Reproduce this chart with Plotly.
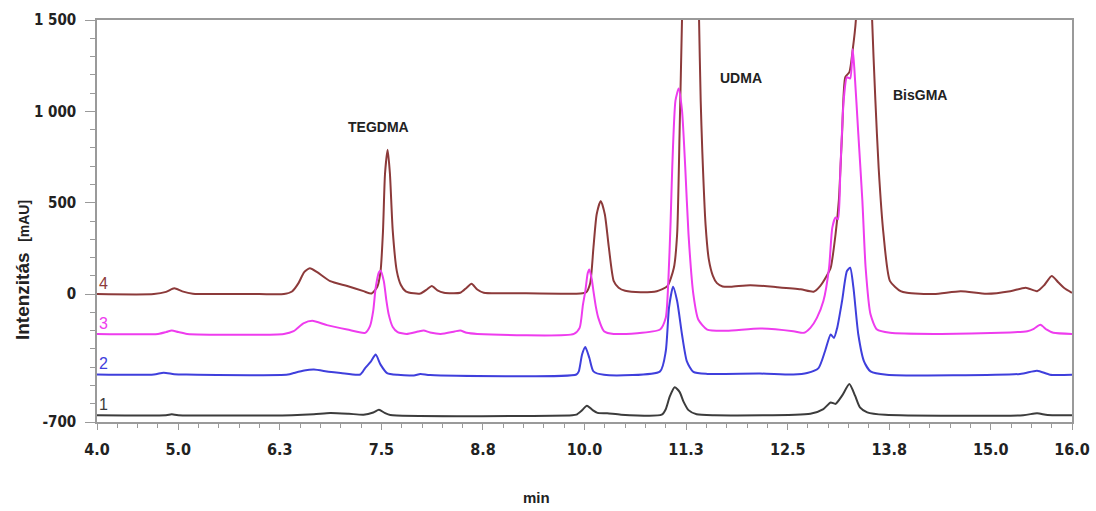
import plotly.graph_objects as go

# ---------------- data ----------------
# retention time (min) / intensity (mAU) for each chromatogram
t4 = [4.0, 4.70, 4.85, 4.95, 5.05, 5.18, 5.5, 6.0, 6.30, 6.40, 6.48, 6.55, 6.62, 6.71, 6.87, 7.08, 7.28, 7.38,
      7.45, 7.49, 7.52, 7.545, 7.577, 7.605, 7.64, 7.69, 7.74, 7.80, 7.90, 7.98, 8.06, 8.12, 8.19, 8.27,
      8.47, 8.55, 8.61, 8.68, 8.76, 9.13, 9.95, 10.02, 10.07, 10.11, 10.15, 10.20, 10.25, 10.30, 10.36,
      10.42, 10.50, 10.69, 10.89, 11.02, 11.10, 11.14, 11.17, 11.20, 11.25, 11.31, 11.37, 11.41, 11.43,
      11.45, 11.49, 11.53, 11.58, 11.63, 11.70, 11.80, 12.04, 12.37, 12.66, 12.82, 12.90, 12.98, 13.03, 13.09, 13.13,
      13.17, 13.21, 13.26, 13.30, 13.34, 13.44, 13.54, 13.58, 13.62, 13.68, 13.76, 13.89, 13.97, 14.30,
      14.63, 14.95, 15.24, 15.43, 15.57, 15.66, 15.75, 15.83, 15.90, 16.0]
y4 = [0, 0, 12, 32, 15, 2, 0, 0, 0, 14, 60, 120, 142, 120, 71, 44, 16, 3,
      40, 126, 346, 660, 790, 660, 346, 126, 50, 15, 4, 3, 25, 44, 20, 7,
      7, 35, 57, 25, 7, 5, 3, 10, 60, 254, 437, 510, 437, 254, 71,
      35, 18, 10, 16, 44, 144, 328, 877, 1500, 2600, 3200, 2600, 1500, 1060,
      780, 380, 190, 100, 60, 42, 40, 49, 38, 26, 13, 44, 99, 144, 328, 510,
      877, 1187, 1215, 1334, 1500, 3200, 1500, 1060, 693, 328, 71, 16, 7, 0,
      16, 2, 16, 35, 16, 50, 99, 65, 35, 7]

t3 = [4.0, 4.75, 4.85, 4.92, 5.00, 5.11, 6.30, 6.42, 6.54, 6.65, 6.83, 7.08, 7.30, 7.36, 7.40, 7.43,
      7.47, 7.49, 7.53, 7.56, 7.59, 7.64, 7.70, 7.81, 7.95, 8.02, 8.10, 8.23, 8.40, 8.47, 8.55, 8.68,
      9.87, 9.94, 9.98, 10.01, 10.04, 10.06, 10.09, 10.11, 10.14, 10.17, 10.24, 10.36, 10.93, 11.00,
      11.03, 11.06, 11.08, 11.12, 11.16, 11.20, 11.24, 11.28, 11.34, 11.40, 11.51, 11.75, 12.16, 12.57,
      12.70, 12.78, 12.86, 12.94, 13.01, 13.05, 13.09, 13.12, 13.15, 13.19, 13.23, 13.27, 13.30, 13.32,
      13.37, 13.42, 13.46, 13.52, 13.60, 13.76, 14.30, 15.12, 15.45, 15.53, 15.61, 15.69, 15.77, 16.0]
y3 = [-218, -218, -208, -199, -208, -218, -218, -203, -160, -146, -170, -194, -212, -175, -90, 35,
      120, 128, 71, -30, -111, -180, -208, -218, -205, -199, -210, -218, -205, -199, -212, -218,
      -218, -185, -60, 16, 115, 135, 80, 16, -70, -130, -203, -218, -194, -130,
      53, 400, 693, 1060, 1125, 1005, 693, 328, -2, -139, -194, -200, -188, -203,
      -212, -185, -130, -38, 144, 364, 419, 410, 693, 1060, 1187, 1180, 1340, 1242,
      877, 510, 144, -111, -194, -212, -218, -212, -203, -190, -168, -195, -212, -218]

t2 = [4.0, 4.70, 4.82, 4.95, 5.10, 6.35, 6.42, 6.55, 6.67, 6.85, 7.00, 7.24, 7.30, 7.37, 7.43, 7.49,
      7.57, 7.70, 7.90, 7.98, 8.10, 9.90, 9.93, 9.97, 10.01, 10.06, 10.11, 10.24, 10.93, 11.00, 11.04,
      11.09, 11.14, 11.20, 11.26, 11.34, 11.51, 12.16, 12.57, 12.74, 12.88, 12.96, 13.03, 13.07, 13.11,
      13.17, 13.23, 13.27, 13.31, 13.37, 13.44, 13.52, 13.72, 15.36, 15.57, 15.73, 16.0]
y2 = [-440, -440, -430, -438, -440, -440, -432, -418, -413, -425, -432, -440, -405, -370, -331, -386,
      -432, -442, -445, -437, -443, -440, -423, -331, -290, -350, -423, -442, -423, -313, -75,
      40, -38, -221, -368, -426, -437, -435, -440, -432, -405, -313, -221, -240, -185,
      -38, 126, 144, 35, -221, -368, -423, -441, -437, -419, -441, -441]

t1 = [4.0, 4.85, 4.92, 5.0, 6.4, 6.67, 6.87, 7.10, 7.28, 7.40, 7.47, 7.54, 7.61, 9.85, 9.90, 9.96,
      10.03, 10.10, 10.16, 10.28, 10.45, 10.95, 11.00, 11.05, 11.11, 11.17, 11.22, 11.28, 11.38, 11.60,
      12.78, 12.94, 13.03, 13.09, 13.17, 13.26, 13.33, 13.39, 13.48, 13.70, 15.40, 15.57, 15.70, 16.0]
y1 = [-663, -663, -658, -663, -663, -658, -651, -655, -660, -648, -633, -650, -662, -663, -660, -640,
      -611, -635, -650, -652, -660, -660, -630, -560, -510, -535, -590, -635, -658, -663,
      -655, -629, -593, -601, -556, -492, -556, -620, -647, -661, -663, -652, -662, -663]

series_names = ["4", "3", "2", "1"]
series_colors = ["#8c3a3a", "#ee3cee", "#3f3fdc", "#3c3c3c"]

x_tickvals = [4.0, 5.0, 6.25, 7.5, 8.75, 10.0, 11.25, 12.5, 13.75, 15.0, 16.0]
x_ticktext = ["4.0", "5.0", "6.3", "7.5", "8.8", "10.0", "11.3", "12.5", "13.8", "15.0", "16.0"]
y_tickvals = [-700, 0, 500, 1000, 1500]
y_ticktext = ["-700", "0", "500", "1 000", "1 500"]

peak_names = ["TEGDMA", "UDMA", "BisGMA"]
peak_label_t = [7.47, 11.93, 14.13]
peak_label_y = [917, 1180, 1087]

# ---------------- figure ----------------
tick_font = dict(family="Liberation Sans Narrow, DejaVu Sans Condensed, Liberation Sans, Arial",
                 size=15, color="#222222", weight="bold")

fig = go.Figure()
all_t = [t4, t3, t2, t1]
all_y = [y4, y3, y2, y1]
for name, col, tx, ty in zip(series_names, series_colors, all_t, all_y):
    fig.add_trace(go.Scatter(x=tx, y=ty, mode="lines", name=name,
                             line=dict(color=col, width=2, shape="spline", smoothing=0.6),
                             showlegend=False, hoverinfo="skip"))
    fig.add_annotation(x=4.0, y=ty[0], xref="x", yref="y", text=name, showarrow=False,
                       xanchor="left", yanchor="bottom", xshift=0, yshift=0,
                       font=dict(family="Liberation Sans, Arial", size=16, color=col))

for nm, px, py in zip(peak_names, peak_label_t, peak_label_y):
    fig.add_annotation(x=px, y=py, xref="x", yref="y", text="<b>" + nm + "</b>", showarrow=False,
                       xanchor="center", yanchor="middle",
                       font=dict(family="Liberation Sans, Arial", size=14, color="#222222"))

axis_col = "#9a9a9a"
fig.update_xaxes(range=[4, 16], tickmode="array", tickvals=x_tickvals, ticktext=x_ticktext,
                 ticks="outside", ticklen=6, tickcolor=axis_col, showline=True, linecolor=axis_col,
                 linewidth=1.5, mirror=True, showgrid=False, zeroline=False, automargin=False,
                 tickfont=dict(tick_font, size=16), ticklabelstandoff=6,
                 minor=dict(tickmode="linear", tick0=4, dtick=0.25, ticks="outside", ticklen=4,
                            tickcolor=axis_col))
fig.update_yaxes(range=[-700, 1500], tickmode="array", tickvals=y_tickvals, ticktext=y_ticktext,
                 ticks="outside", ticklen=10, tickcolor=axis_col, showline=True, linecolor=axis_col,
                 linewidth=1.5, mirror=True, showgrid=False, zeroline=False, automargin=False,
                 tickfont=tick_font, ticklabelstandoff=6,
                 minor=dict(tickmode="linear", tick0=-700, dtick=100, ticks="outside", ticklen=5,
                            tickcolor=axis_col))

fig.add_annotation(xref="paper", yref="paper", x=0, y=0.378, xshift=-75, textangle=-90,
                   text="<b>Intenzitás  <span style='font-size:14px'>[mAU]</span></b>", showarrow=False,
                   xanchor="center", yanchor="middle",
                   font=dict(family="Liberation Sans, Arial", size=19, color="#222222"))
fig.add_annotation(xref="paper", yref="paper", x=0.451, y=0, yshift=-75, text="<b>min</b>",
                   showarrow=False, xanchor="center", yanchor="middle",
                   font=dict(family="Liberation Sans Narrow, Liberation Sans, Arial", size=15,
                             color="#222222"))

fig.update_layout(width=1096, height=511, margin=dict(l=97, r=24, t=20, b=89, autoexpand=False),
                  paper_bgcolor="white", plot_bgcolor="white")

fig.write_html("out.html")
